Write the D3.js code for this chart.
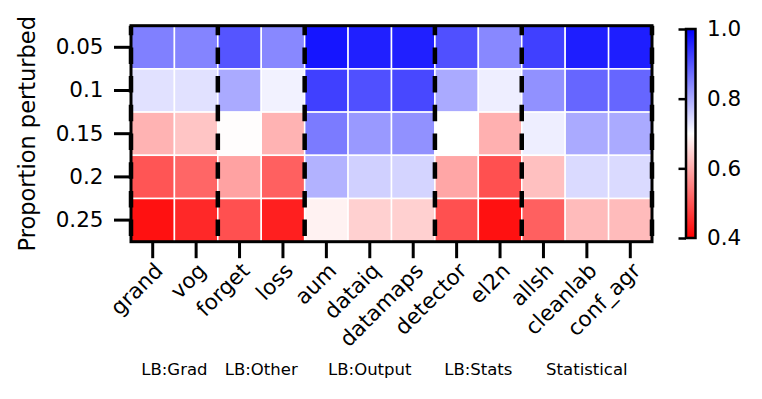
<!DOCTYPE html>
<html><head><meta charset="utf-8">
<script src="https://cdn.jsdelivr.net/npm/d3@7"></script>
<style>body{margin:0;background:#fff}svg{display:block}text{font-family:"DejaVu Sans",sans-serif;fill:#000}</style>
</head><body><svg id="c" width="762" height="399"></svg>
<script>
// ---- data ----
const methods = ["grand","vog","forget","loss","aum","dataiq","datamaps","detector","el2n","allsh","cleanlab","conf_agr"];
const proportions = ["0.05","0.1","0.15","0.2","0.25"];
const groups = ["LB:Grad","LB:Other","LB:Output","LB:Stats","Statistical"];
const groupSizes = [2,2,3,2,3];
const row005 = [0.85,0.845,0.90,0.84,0.975,0.962,0.962,0.906,0.84,0.925,0.965,0.965];
const row010 = [0.735,0.735,0.80,0.715,0.925,0.906,0.915,0.80,0.72,0.83,0.88,0.88];
const row015 = [0.61,0.632,0.698,0.61,0.855,0.82,0.83,0.70,0.607,0.72,0.80,0.80];
const row020 = [0.50,0.52,0.59,0.513,0.79,0.755,0.75,0.595,0.494,0.626,0.743,0.743];
const row025 = [0.42,0.447,0.494,0.437,0.685,0.645,0.645,0.494,0.42,0.513,0.62,0.62];
const colorTicks = [0.4,0.6,0.8,1.0];
const colorDomain = [0.4,1.0];

const rows = [row005,row010,row015,row020,row025];
const cells = [];
rows.forEach((r,i)=>r.forEach((v,j)=>cells.push({p:proportions[i],m:methods[j],v})));

// ---- layout ----
const svg = d3.select("#c");
const L=131, R=652, T=25.7, B=241.7;
const TICKFS=21.5, LABELFS=22.5, GROUPFS=16.5;
const x = d3.scaleBand().domain(methods).range([L,R]);
const y = d3.scaleBand().domain(proportions).range([T,B]);
// bwr_r colormap: red -> white -> blue
const mid = (colorDomain[0]+colorDomain[1])/2;
const color = d3.scaleLinear().domain([colorDomain[0],mid,colorDomain[1]])
  .range(["#ff0000","#ffffff","#0000ff"]).clamp(true);

svg.append("g").selectAll("rect").data(cells).join("rect")
  .attr("x",d=>x(d.m)).attr("y",d=>y(d.p))
  .attr("width",x.bandwidth()).attr("height",y.bandwidth())
  .attr("fill",d=>color(d.v)).attr("stroke","#fff").attr("stroke-width",1.5);

// group dashed separators
let acc=0; const bounds=[];
groupSizes.forEach(s=>{bounds.push(x(methods[acc])); acc+=s;});
bounds.push(R);
svg.append("g").selectAll("line").data(bounds).join("line")
  .attr("x1",d=>d).attr("x2",d=>d).attr("y1",T).attr("y2",B)
  .attr("stroke","#000").attr("stroke-width",4.5)
  .attr("stroke-dasharray","16.5,12.2").attr("stroke-dashoffset",7);

// frame
svg.append("rect").attr("x",L).attr("y",T).attr("width",R-L).attr("height",B-T)
  .attr("fill","none").attr("stroke","#000").attr("stroke-width",3);

// y axis
const yAxis = d3.axisLeft(y).tickSize(17).tickPadding(10.5);
const gy = svg.append("g").attr("transform",`translate(${L},0)`).call(yAxis);
gy.select(".domain").remove();
gy.selectAll(".tick line").attr("stroke","#000").attr("stroke-width",3);
gy.selectAll(".tick text").attr("font-size",TICKFS).attr("font-family","DejaVu Sans");

svg.append("text").attr("transform",`translate(35,${(T+B)/2}) rotate(-90)`)
  .attr("text-anchor","middle").attr("font-size",LABELFS).text("Proportion perturbed");

// x axis
const xAxis = d3.axisBottom(x).tickSize(16.5).tickPadding(0);
const gx = svg.append("g").attr("transform",`translate(0,${B})`).call(xAxis);
gx.select(".domain").remove();
gx.selectAll(".tick line").attr("stroke","#000").attr("stroke-width",3);
gx.selectAll(".tick text").attr("font-size",TICKFS).attr("font-family","DejaVu Sans")
  .attr("text-anchor","end").attr("y",null)
  .attr("transform","translate(0,19) rotate(-45)")
  .attr("dy","0.75em");

// group labels
acc=0;
const gcent = groupSizes.map(s=>{const a=x(methods[acc]); acc+=s; const b=x(methods[acc-1])+x.bandwidth(); return (a+b)/2;});
svg.append("g").selectAll("text").data(groups).join("text")
  .attr("x",(d,i)=>gcent[i]).attr("y",375).attr("text-anchor","middle")
  .attr("font-size",GROUPFS).text(d=>d);

// colorbar
const cbX=686, cbW=9.5, cbT=29, cbB=238;
const cy = d3.scaleLinear().domain(colorDomain).range([cbB,cbT]);
const grad = svg.append("defs").append("linearGradient").attr("id","cb")
  .attr("x1",0).attr("y1",1).attr("x2",0).attr("y2",0);
d3.range(0,1.0001,0.05).forEach(t=>{
  const v = colorDomain[0]+t*(colorDomain[1]-colorDomain[0]);
  grad.append("stop").attr("offset",t).attr("stop-color",color(v));
});
svg.append("rect").attr("x",cbX).attr("y",cbT).attr("width",cbW).attr("height",cbB-cbT)
  .attr("fill","url(#cb)").attr("stroke","#000").attr("stroke-width",2.5);
const cax = d3.axisLeft(cy).tickValues(colorTicks).tickSize(7.5).tickFormat(d3.format(".1f"));
const gc = svg.append("g").attr("transform",`translate(${cbX},0)`).call(cax);
gc.select(".domain").remove();
gc.selectAll(".tick line").attr("stroke","#000").attr("stroke-width",2.5);
gc.selectAll(".tick text").attr("font-size",TICKFS).attr("font-family","DejaVu Sans")
  .attr("text-anchor","start").attr("x",cbW+11.5);
</script></body></html>
